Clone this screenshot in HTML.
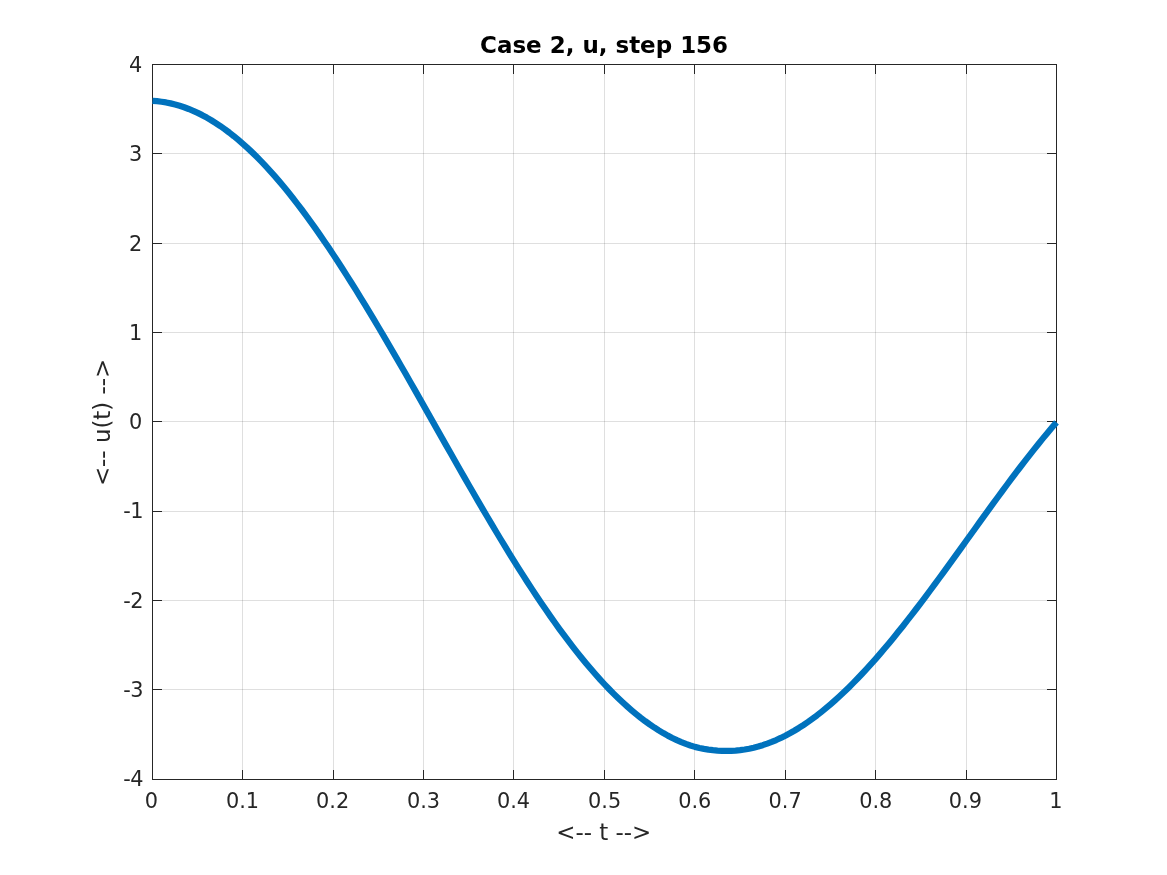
<!DOCTYPE html><html><head><meta charset="utf-8"><title>Case 2, u, step 156</title>
<style>html,body{margin:0;padding:0;background:#fff}body{width:1167px;height:875px;overflow:hidden}svg{display:block}text{font-family:"DejaVu Sans","Liberation Sans",sans-serif;fill:#262626}</style></head><body>
<svg width="1167" height="875" viewBox="0 0 1167 875">
<rect width="1167" height="875" fill="#fff"/>
<g stroke="#262626" stroke-opacity="0.15" stroke-width="1" shape-rendering="crispEdges"><line x1="242.5" y1="64.5" x2="242.5" y2="779.5"/><line x1="333.5" y1="64.5" x2="333.5" y2="779.5"/><line x1="423.5" y1="64.5" x2="423.5" y2="779.5"/><line x1="513.5" y1="64.5" x2="513.5" y2="779.5"/><line x1="604.5" y1="64.5" x2="604.5" y2="779.5"/><line x1="694.5" y1="64.5" x2="694.5" y2="779.5"/><line x1="785.5" y1="64.5" x2="785.5" y2="779.5"/><line x1="875.5" y1="64.5" x2="875.5" y2="779.5"/><line x1="966.5" y1="64.5" x2="966.5" y2="779.5"/><line x1="152.5" y1="153.5" x2="1056.5" y2="153.5"/><line x1="152.5" y1="243.5" x2="1056.5" y2="243.5"/><line x1="152.5" y1="332.5" x2="1056.5" y2="332.5"/><line x1="152.5" y1="421.5" x2="1056.5" y2="421.5"/><line x1="152.5" y1="511.5" x2="1056.5" y2="511.5"/><line x1="152.5" y1="600.5" x2="1056.5" y2="600.5"/><line x1="152.5" y1="689.5" x2="1056.5" y2="689.5"/></g>
<g fill="#262626" shape-rendering="crispEdges"><rect x="152" y="770" width="1" height="10"/><rect x="152" y="64" width="1" height="10"/><rect x="242" y="770" width="1" height="10"/><rect x="242" y="64" width="1" height="10"/><rect x="333" y="770" width="1" height="10"/><rect x="333" y="64" width="1" height="10"/><rect x="423" y="770" width="1" height="10"/><rect x="423" y="64" width="1" height="10"/><rect x="513" y="770" width="1" height="10"/><rect x="513" y="64" width="1" height="10"/><rect x="604" y="770" width="1" height="10"/><rect x="604" y="64" width="1" height="10"/><rect x="694" y="770" width="1" height="10"/><rect x="694" y="64" width="1" height="10"/><rect x="785" y="770" width="1" height="10"/><rect x="785" y="64" width="1" height="10"/><rect x="875" y="770" width="1" height="10"/><rect x="875" y="64" width="1" height="10"/><rect x="966" y="770" width="1" height="10"/><rect x="966" y="64" width="1" height="10"/><rect x="1056" y="770" width="1" height="10"/><rect x="1056" y="64" width="1" height="10"/><rect x="152" y="64" width="10" height="1"/><rect x="1047" y="64" width="10" height="1"/><rect x="152" y="153" width="10" height="1"/><rect x="1047" y="153" width="10" height="1"/><rect x="152" y="243" width="10" height="1"/><rect x="1047" y="243" width="10" height="1"/><rect x="152" y="332" width="10" height="1"/><rect x="1047" y="332" width="10" height="1"/><rect x="152" y="421" width="10" height="1"/><rect x="1047" y="421" width="10" height="1"/><rect x="152" y="511" width="10" height="1"/><rect x="1047" y="511" width="10" height="1"/><rect x="152" y="600" width="10" height="1"/><rect x="1047" y="600" width="10" height="1"/><rect x="152" y="689" width="10" height="1"/><rect x="1047" y="689" width="10" height="1"/><rect x="152" y="779" width="10" height="1"/><rect x="1047" y="779" width="10" height="1"/><rect x="152" y="64" width="905" height="1"/><rect x="152" y="779" width="905" height="1"/><rect x="152" y="64" width="1" height="716"/><rect x="1056" y="64" width="1" height="716"/></g>
<polyline points="152.50,100.83 157.02,101.18 161.54,101.73 166.06,102.46 170.58,103.38 175.10,104.49 179.62,105.79 184.14,107.29 188.66,108.97 193.18,110.85 197.70,112.92 202.22,115.17 206.74,117.62 211.26,120.25 215.78,123.07 220.30,126.07 224.82,129.26 229.34,132.63 233.86,136.18 238.38,139.91 242.90,143.82 247.42,147.90 251.94,152.15 256.46,156.58 260.98,161.17 265.50,165.93 270.02,170.84 274.54,175.92 279.06,181.15 283.58,186.54 288.10,192.07 292.62,197.74 297.14,203.56 301.66,209.51 306.18,215.59 310.70,221.80 315.22,228.14 319.74,234.60 324.26,241.17 328.78,247.85 333.30,254.64 337.82,261.53 342.34,268.51 346.86,275.58 351.38,282.73 355.90,289.96 360.42,297.28 364.94,304.66 369.46,312.12 373.98,319.64 378.50,327.23 383.02,334.87 387.54,342.56 392.06,350.31 396.58,358.10 401.10,365.94 405.62,373.81 410.14,381.72 414.66,389.65 419.18,397.61 423.70,405.60 428.22,413.60 432.74,421.60 437.26,429.60 441.78,437.60 446.30,445.59 450.82,453.56 455.34,461.52 459.86,469.45 464.38,477.36 468.90,485.23 473.42,493.06 477.94,500.85 482.46,508.59 486.98,516.29 491.50,523.92 496.02,531.50 500.54,539.01 505.06,546.45 509.58,553.82 514.10,561.12 518.62,568.32 523.14,575.45 527.66,582.48 532.18,589.41 536.70,596.25 541.22,602.98 545.74,609.61 550.26,616.12 554.78,622.52 559.30,628.80 563.82,634.95 568.34,640.98 572.86,646.88 577.38,652.64 581.90,658.27 586.42,663.76 590.94,669.10 595.46,674.30 599.98,679.35 604.50,684.25 609.02,688.99 613.54,693.58 618.06,698.01 622.58,702.28 627.10,706.39 631.62,710.33 636.14,714.10 640.66,717.71 645.18,721.14 649.70,724.40 654.22,727.48 658.74,730.38 663.26,733.09 667.78,735.63 672.30,737.98 676.82,740.15 681.34,742.12 685.86,743.91 690.38,745.51 694.90,746.88 699.42,747.99 703.94,748.89 708.46,749.59 712.98,750.15 717.50,750.58 722.02,750.87 726.54,750.97 731.06,750.89 735.58,750.62 740.10,750.17 744.62,749.53 749.14,748.71 753.66,747.71 758.18,746.53 762.70,745.16 767.22,743.62 771.74,741.90 776.26,740.01 780.78,737.94 785.30,735.70 789.82,733.29 794.34,730.72 798.86,727.98 803.38,725.07 807.90,722.01 812.42,718.78 816.94,715.41 821.46,711.88 825.98,708.20 830.50,704.37 835.02,700.40 839.54,696.29 844.06,692.05 848.58,687.67 853.10,683.16 857.62,678.53 862.14,673.77 866.66,668.90 871.18,663.91 875.70,658.82 880.22,653.62 884.74,648.31 889.26,642.91 893.78,637.42 898.30,631.84 902.82,626.18 907.34,620.44 911.86,614.63 916.38,608.75 920.90,602.80 925.42,596.80 929.94,590.75 934.46,584.64 938.98,578.50 943.50,572.31 948.02,566.10 952.54,559.86 957.06,553.60 961.58,547.32 966.10,541.04 970.62,534.75 975.14,528.46 979.66,522.18 984.18,515.92 988.70,509.67 993.22,503.45 997.74,497.26 1002.26,491.11 1006.78,485.00 1011.30,478.94 1015.82,472.94 1020.34,466.99 1024.86,461.12 1029.38,455.31 1033.90,449.59 1038.42,443.95 1042.94,438.40 1047.46,432.95 1051.98,427.60 1056.50,422.36" fill="none" stroke="#0072bd" stroke-width="6.25" stroke-linejoin="round" stroke-linecap="butt"/>
<text x="151.5" y="808.4" font-size="20.83" text-anchor="middle">0</text>
<text x="242.5" y="808.4" font-size="20.83" text-anchor="middle">0.1</text>
<text x="332.6" y="808.4" font-size="20.83" text-anchor="middle">0.2</text>
<text x="423.5" y="808.4" font-size="20.83" text-anchor="middle">0.3</text>
<text x="513.5" y="808.4" font-size="20.83" text-anchor="middle">0.4</text>
<text x="604.6" y="808.4" font-size="20.83" text-anchor="middle">0.5</text>
<text x="694.8" y="808.4" font-size="20.83" text-anchor="middle">0.6</text>
<text x="785.1" y="808.4" font-size="20.83" text-anchor="middle">0.7</text>
<text x="875.8" y="808.4" font-size="20.83" text-anchor="middle">0.8</text>
<text x="965.4" y="808.4" font-size="20.83" text-anchor="middle">0.9</text>
<text x="1055.8" y="808.4" font-size="20.83" text-anchor="middle">1</text>
<text x="142.3" y="72.1" font-size="20.83" text-anchor="end">4</text>
<text x="142.3" y="161.1" font-size="20.83" text-anchor="end">3</text>
<text x="142.3" y="251.1" font-size="20.83" text-anchor="end">2</text>
<text x="142.3" y="340.1" font-size="20.83" text-anchor="end">1</text>
<text x="142.3" y="429.1" font-size="20.83" text-anchor="end">0</text>
<text x="143.4" y="518.1" font-size="20.83" text-anchor="end">-<tspan dx="-0.7">1</tspan></text>
<text x="143.4" y="608.1" font-size="20.83" text-anchor="end">-<tspan dx="-0.7">2</tspan></text>
<text x="143.4" y="697.1" font-size="20.83" text-anchor="end">-<tspan dx="-0.7">3</tspan></text>
<text x="143.4" y="786.1" font-size="20.83" text-anchor="end">-<tspan dx="-0.7">4</tspan></text>
<text x="603.7" y="840.0" font-size="22.92" text-anchor="middle">&lt;-- t --&gt;</text>
<text transform="translate(110.3,422.4) rotate(-90)" font-size="22.92" text-anchor="middle">&lt;-- u(t) --&gt;</text>
<text x="604.1" y="53.0" font-size="22.98" font-weight="bold" style="fill:#000" text-anchor="middle">Case 2, u, step 156</text>
</svg></body></html>
